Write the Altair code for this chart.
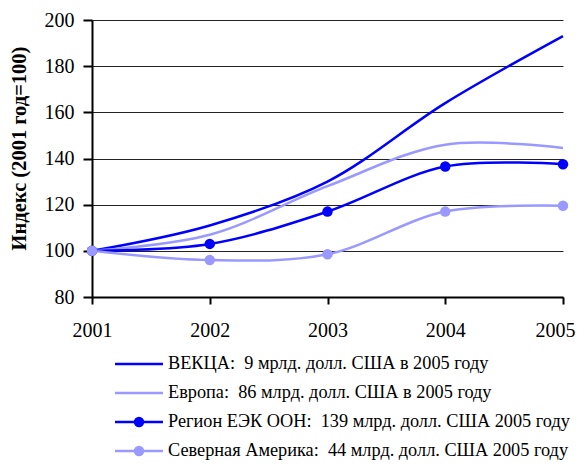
import altair as alt
import pandas as pd

years = [2001, 2002, 2003, 2004, 2005]
series_names = [
    "ВЕКЦА:\u00a0 9 мрлд. долл. США в 2005 году",
    "Европа:\u00a0 86 млрд. долл. США в 2005 году",
    "Регион ЕЭК ООН:\u00a0 139 млрд. долл. США 2005 году",
    "Северная Америка:\u00a0 44 млрд. долл. США 2005 году",
]
vekca = [100, 111, 130, 164, 193]
europe = [100, 107, 128, 146, 144.5]
unece = [100, 103, 117, 136.5, 137.5]
namerica = [100, 96, 98.5, 117, 119.5]
colors = ["#0000FF", "#9999FF", "#0000FF", "#9999FF"]
has_points = [False, False, True, True]

rows = []
for name, vals, pts in zip(series_names, [vekca, europe, unece, namerica], has_points):
    for y, v in zip(years, vals):
        rows.append({"year": y, "value": v, "series": name, "pts": pts})
df = pd.DataFrame(rows)
leg = pd.DataFrame({"series": series_names, "idx": [0, 1, 2, 3], "pts": has_points})

FONT = "Liberation Serif"
color_scale = alt.Scale(domain=series_names, range=colors)

x = alt.X("year:Q", scale=alt.Scale(domain=[2001, 2005]),
          axis=alt.Axis(values=years, format="d", title=None, grid=False,
                        labelFontSize=20, labelFont=FONT, labelColor="black",
                        tickSize=7, tickColor="black", tickWidth=2,
                        domainColor="black", domainWidth=2, labelPadding=16,
                        labelOffset={"condition": {"test": "datum.value === 2005", "value": -8},
                                     "value": 0},
                        labelFlush=False))
y = alt.Y("value:Q", scale=alt.Scale(domain=[80, 200]),
          axis=alt.Axis(values=[80, 100, 120, 140, 160, 180, 200],
                        title="Индекс (2001 год=100)", titleFont=FONT,
                        titleFontSize=20.5, titleFontWeight="bold", titleColor="black",
                        titleX=-63, titleY=128,
                        labelFontSize=20, labelFont=FONT, labelColor="black",
                        tickSize=9, tickColor="black", tickWidth=2,
                        domainColor="black", domainWidth=2,
                        gridColor="#222222", gridWidth=1, labelPadding=9))

lines = alt.Chart(df).mark_line(interpolate="catmull-rom", strokeWidth=2.5).encode(
    x=x, y=y,
    color=alt.Color("series:N", scale=color_scale, legend=None),
    detail="series:N",
)
points = alt.Chart(df).transform_filter("datum.pts").mark_circle(size=110, opacity=1).encode(
    x="year:Q", y="value:Q",
    color=alt.Color("series:N", scale=color_scale, legend=None),
)

leg_y = alt.Y("idx:Q", scale=alt.Scale(domain=[0, 3], range=[344, 431]), axis=None)
leg_lines = alt.Chart(leg).mark_rule(strokeWidth=2.5).encode(
    x=alt.value(23), x2=alt.value(71), y=leg_y,
    color=alt.Color("series:N", scale=color_scale, legend=None),
)
leg_pts = alt.Chart(leg).transform_filter("datum.pts").mark_circle(size=110, opacity=1).encode(
    x=alt.value(47), y=leg_y,
    color=alt.Color("series:N", scale=color_scale, legend=None),
)
leg_text = alt.Chart(leg).mark_text(align="left", baseline="middle", font=FONT,
                                    fontSize=18.3, color="black").encode(
    x=alt.value(76), y=leg_y, text="series:N",
)

main = alt.layer(lines, points)
legend = alt.layer(leg_lines, leg_pts, leg_text)
chart = alt.layer(main, legend).resolve_scale(y="independent").properties(
    width=471, height=277,
    autosize=alt.AutoSizeParams(type="none"),
    padding={"left": 84, "top": 12, "right": 13, "bottom": 165},
).configure_view(stroke=None)

chart.save("out.html", embed_options={"renderer": "svg", "actions": False})
